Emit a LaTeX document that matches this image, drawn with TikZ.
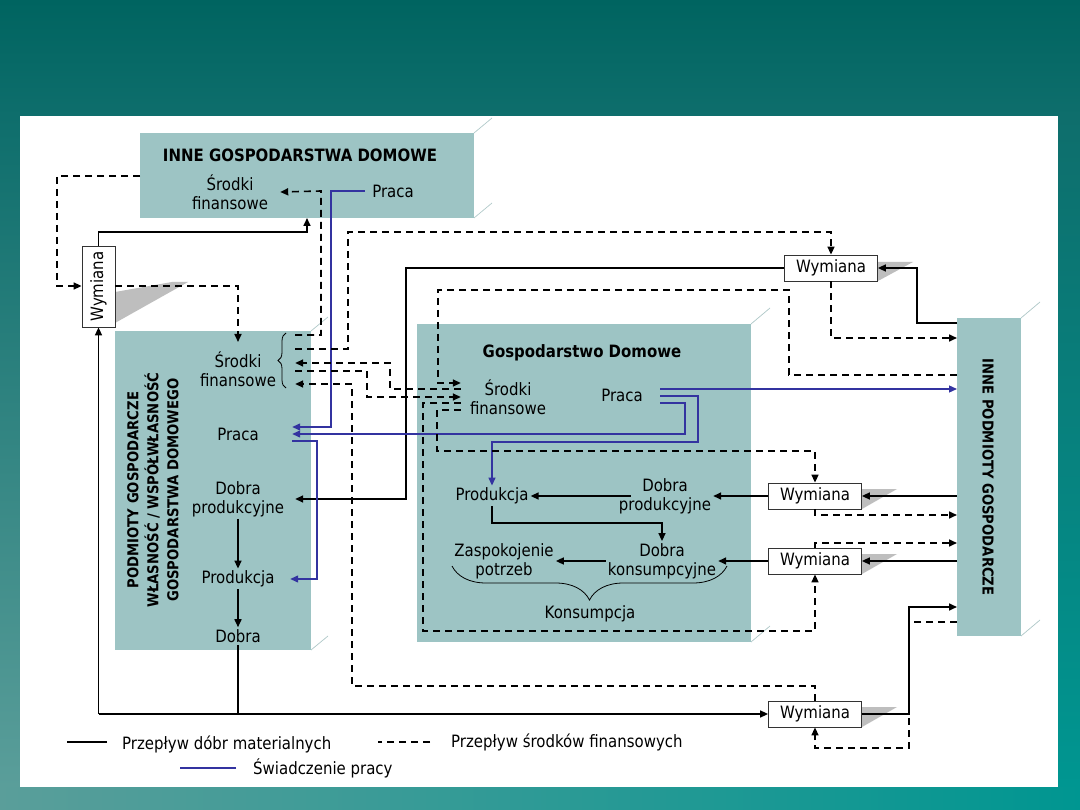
\documentclass[tikz,border=0pt]{standalone}
\usepackage{fontspec}
\setmainfont{DejaVu Sans}[FakeStretch=0.88]
\usetikzlibrary{arrows.meta,decorations.pathreplacing}
\definecolor{boxc}{RGB}{157,196,196}
\definecolor{labc}{RGB}{51,51,160}
\definecolor{tealA}{RGB}{0,100,96}
\definecolor{tealB}{RGB}{14,110,108}
\definecolor{tealC}{RGB}{90,158,154}
\definecolor{tealD}{RGB}{0,150,145}
\definecolor{shadowc}{RGB}{190,190,190}
\definecolor{edgec}{RGB}{175,200,200}
\tikzset{
  panel/.style={fill=boxc, draw=none, inner sep=0pt, outer sep=0pt, anchor=north west},
  txt/.style={font=\fontsize{17}{19}\selectfont, align=center, inner sep=2pt},
  ttl/.style={font=\bfseries\fontsize{17}{19}\selectfont, align=center},
  rtl/.style={font=\bfseries\fontsize{15}{20}\selectfont, align=center},
  wym/.style={draw=black!80, line width=0.8pt, fill=white, minimum width=93pt, minimum height=26pt, inner sep=0pt, font=\fontsize{17}{19}\selectfont},
  headA/.style={-{Triangle[length=8pt,width=7pt]}},
  mat/.style={draw=black, line width=1.6pt, headA},
  matline/.style={draw=black, line width=1.6pt},
  finline/.style={draw=black, line width=1.6pt, dash pattern=on 7pt off 5pt},
  fin/.style={finline, headA},
  labline/.style={draw=labc, line width=1.3pt},
  lab/.style={labline, headA},
  shd/.style={fill=shadowc, draw=none},
  edgeline/.style={draw=edgec, line width=0.7pt},
}
\begin{document}
\begin{tikzpicture}[x=1pt,y=-1pt]
\useasboundingbox (0,0) rectangle (1080,810);
% background
\fill[tealB] (0,0) rectangle (1080,810);
\shade[top color=tealA,bottom color=tealB] (0,0) rectangle (1080,116);
\shade[top color=tealB,bottom color=tealC] (0,116) rectangle (20,787);
\shade[top color=tealB,bottom color=tealD] (1058,116) rectangle (1080,787);
\shade[left color=tealC,right color=tealD] (0,787) rectangle (1080,810);
\fill[white] (20,116) rectangle (1058,787);

% panels
\node[panel, minimum width=334pt, minimum height=85pt] (igd) at (140,133) {};
\node[panel, minimum width=196pt, minimum height=319pt] (pg) at (115,331) {};
\node[panel, minimum width=334pt, minimum height=318pt] (gd) at (417,324) {};
\node[panel, minimum width=64pt, minimum height=318pt] (ip) at (957,318) {};
\draw[edgeline] (igd.north east) -- ++(18,-15);
\draw[edgeline] (igd.south east) -- ++(18,-15);
\draw[edgeline] (pg.north east) -- ++(17,-14);
\draw[edgeline] (pg.south east) -- ++(17,-14);
\draw[edgeline] (gd.north east) -- ++(19,-16);
\draw[edgeline] (gd.south east) -- ++(19,-16);
\draw[edgeline] (ip.north east) -- ++(19,-16);
\draw[edgeline] (ip.south east) -- ++(19,-16);

% shadows
\fill[shd] (115,292) -- (172,282) -- (188,282) -- (115,323) -- cycle;
\fill[shd] (878,262) -- (913,262) -- (878,281) -- cycle;
\fill[shd] (862,489) -- (897,489) -- (862,509) -- cycle;
\fill[shd] (862,554) -- (897,554) -- (862,574) -- cycle;
\fill[shd] (862,707) -- (897,707) -- (862,727) -- cycle;

% exchange boxes
\node[wym, minimum width=33pt, minimum height=81pt] (wv) at (98.5,286.5) {\rotatebox{90}{Wymiana}};
\node[wym] (w1) at (831,268) {Wymiana};
\node[wym] (w2) at (815,496) {Wymiana};
\node[wym] (w3) at (815,561) {Wymiana};
\node[wym] (w4) at (815,714) {Wymiana};

% texts
\node[ttl] (igdt) at (300,155) {INNE GOSPODARSTWA DOMOWE};
\node[txt, minimum width=100pt] (igdsf) at (230,192) {Środki\\finansowe};
\node[txt, minimum width=56pt] (igdpr) at (393,191) {Praca};
\node[rtl, rotate=90] (pgt) at (153,490) {PODMIOTY GOSPODARCZE\\WŁASNOŚĆ / WSPÓŁWŁASNOŚĆ\\GOSPODARSTWA DOMOWEGO};
\node[txt, minimum width=114pt] (pgsf) at (238,369) {Środki\\finansowe};
\node[txt, minimum width=108pt] (pgpr) at (238,434) {Praca};
\node[txt, minimum width=114pt] (pgdp) at (238,499) {Dobra\\produkcyjne};
\node[txt, minimum width=104pt] (pgprod) at (238,579) {Produkcja};
\node[txt] (pgd) at (238,636) {Dobra};
\node[ttl] (gdt) at (582,353) {Gospodarstwo Domowe};
\node[txt, minimum width=94pt] (gdsf) at (508,397) {Środki\\finansowe};
\node[txt, minimum width=76pt] (gdpr) at (622,395) {Praca};
\node[txt] (gdprod) at (492,496) {Produkcja};
\node[txt] (gddp) at (665,496) {Dobra\\produkcyjne};
\node[txt] (gdzp) at (504,561) {Zaspokojenie\\potrzeb};
\node[txt] (gddk) at (662,561) {Dobra\\konsumpcyjne};
\node[txt] (gdk) at (590,614) {Konsumpcja};
\node[rtl, rotate=-90] (ipt) at (988,477) {INNE PODMIOTY GOSPODARCZE};

% braces
\draw[line width=0.8pt, decorate, decoration={brace, amplitude=8pt}] (286,388) -- (286,333);
\draw[line width=0.8pt, decorate, decoration={brace, amplitude=34pt}] (727,566) -- (452,566);

% material flows
\draw[mat] (wv.north) |- (307,232) -- (igd.south -| 307,0);
\draw[matline] (pgd.south) -- (pgd.south |- w4.west);
\draw[mat] (w4.west -| wv.south) -- (wv.south);
\draw[mat] (w4.west -| wv.south) -- (w4.west);
\draw[mat] (w4.east) -| (909,607) -- (ip.west |- 0,607);
\draw[mat] (ip.west |- 0,323) -| (917,268) -- (w1.east);
\draw[mat] (w1.west) -| (406,499) -- (pgdp.east);
\draw[mat] (ip.west |- w2.east) -- (w2.east);
\draw[mat] (w2.west) -- (gddp.east);
\draw[mat] (ip.west |- w3.east) -- (w3.east);
\draw[mat] (w3.west) -- (gddk.east);
\draw[mat, shorten <=-14pt] (gddp.west) -- (gdprod.east);
\draw[mat] (gdprod.south) |- (662,523) -- (gddk.north);
\draw[mat] (gddk.west) -- (gdzp.east);
\draw[mat] (pgdp.south) -- (pgprod.north);
\draw[mat] (pgprod.south) -- (pgd.north);

% labour flows
\draw[lab] (igdpr.west) -| (331,427) -- (pgpr.east |- 0,427);
\draw[lab] (gdpr.east |- 0,389) -- (ip.west |- 0,389);
\draw[lab] (gdpr.east |- 0,396) -| (698,442) -| (gdprod.north);
\draw[lab] (gdpr.east |- 0,403) -| (685,434) -- (pgpr.east |- 0,434);
\draw[lab] (pgpr.east |- 0,441) -| (317,579) -- (pgprod.east);

% financial flows
\draw[fin] (igd.west |- 0,176) -| (57,286) -- (wv.west |- 0,286);
\draw[fin] (wv.east |- 0,286) -| (pgsf.north |- 0,342);
\draw[fin] (pgsf.east |- 0,335) -| (321,191) -- (igdsf.east);
\draw[fin] (pgsf.east |- 0,349) -| (348,232) -| (w1.north);
\draw[fin] (gdsf.west |- 0,389) -| (390,363) -- (pgsf.east |- 0,363);
\draw[fin] (pgsf.east |- 0,371) -| (367,397) -- (gdsf.west |- 0,397);
\draw[fin] (w4.north) |- (352,686) |- (pgsf.east |- 0,384);
\draw[fin] (ip.west |- 0,622) -| (909,748) -| (w4.south);
\draw[fin] (gdsf.west |- 0,403) -| (423,631) -| (w3.south);
\draw[fin] (w3.north) |- (ip.west |- 0,543);
\draw[fin] (gdsf.west |- 0,410) -| (437,451) -| (w2.north);
\draw[fin] (w2.south) |- (ip.west |- 0,515);
\draw[fin] (w1.south) |- (ip.west |- 0,338);
\draw[fin] (ip.west |- 0,375) -| (789,290) -| (438,383) -- (gdsf.west |- 0,383);

% legend
\node[txt, anchor=west] (lg1) at (120,744) {Przepływ dóbr materialnych};
\node[txt, anchor=west] (lg2) at (449,742) {Przepływ środków finansowych};
\node[txt, anchor=west] (lg3) at (251,768) {Świadczenie pracy};
\draw[matline] ([xshift=-13pt,yshift=2pt]lg1.west) -- ++(-40,0);
\draw[finline] ([xshift=-19pt]lg2.west) -- ++(-52,0);
\draw[labline] ([xshift=-15pt]lg3.west) -- ++(-56,0);
\end{tikzpicture}
\end{document}
